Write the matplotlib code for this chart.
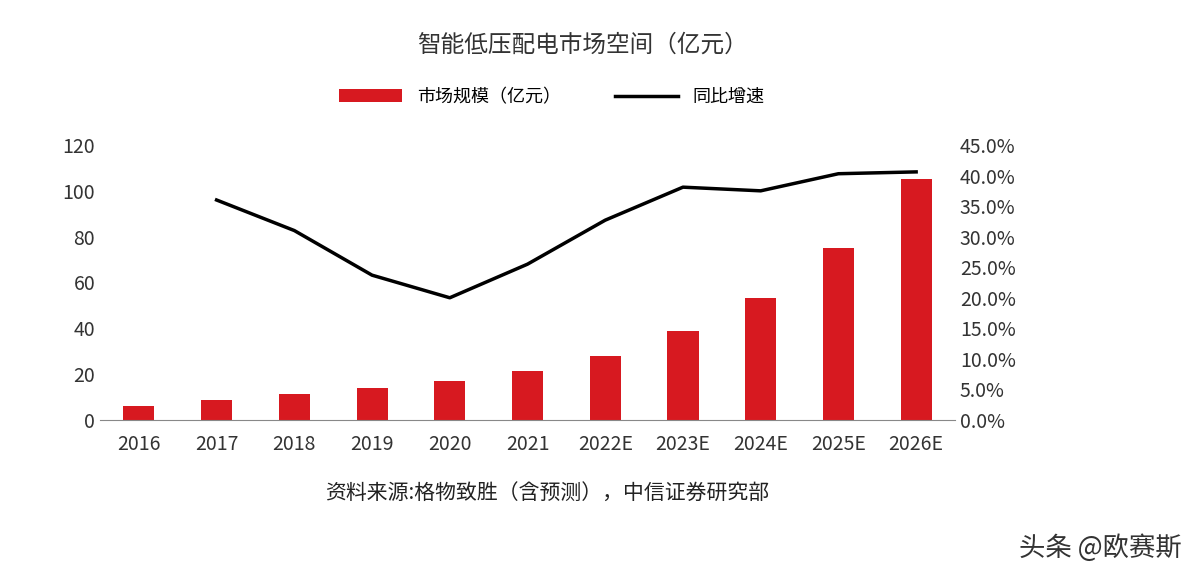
import matplotlib
matplotlib.use("Agg")
import matplotlib.pyplot as plt
from matplotlib import font_manager as fm
from matplotlib.ticker import FuncFormatter

cjk = None
for f in fm.fontManager.ttflist:
    if "CJK" in f.name and ("SC" in f.name or cjk is None):
        cjk = f.name
        if "SC" in f.name:
            break
plt.rcParams["font.family"] = [cjk or "Noto Sans CJK SC", "DejaVu Sans"]

categories = ["2016", "2017", "2018", "2019", "2020", "2021", "2022E", "2023E", "2024E", "2025E", "2026E"]
market = [6, 8.7, 11.3, 14, 17, 21.4, 28, 38.8, 53.2, 75, 105]
growth_years = categories[1:]
growth = [36.0, 31.0, 23.7, 20.0, 25.5, 32.7, 38.1, 37.5, 40.3, 40.6]

W, H = 1200, 580
fig = plt.figure(figsize=(W / 100, H / 100), dpi=100)
ax = fig.add_axes([100 / W, 1 - 420 / H, 855 / W, 275 / H])
x = list(range(len(categories)))
ax.bar(x, market, width=0.4, color="#d71920", label="市场规模（亿元）")
ax.set_ylim(0, 120)
ax.set_yticks(range(0, 121, 20))
ax.set_xlim(-0.5, len(categories) - 0.5)
ax.set_xticks(x)
ax.set_xticklabels(categories)
for s in ["top", "right", "left"]:
    ax.spines[s].set_visible(False)
ax.spines["bottom"].set_color("#888888")
ax.tick_params(axis="both", labelsize=14, colors="#333333", length=0)
ax.tick_params(axis="x", pad=10)

ax2 = ax.twinx()
ax2.plot(x[1:], growth, color="black", lw=2.5, label="同比增速")
ax2.set_ylim(0, 45)
ax2.set_yticks([i * 5 for i in range(10)])
ax2.yaxis.set_major_formatter(FuncFormatter(lambda v, p: f"{v:.1f}%"))
for s in ["top", "right", "left", "bottom"]:
    ax2.spines[s].set_visible(False)
ax2.tick_params(axis="y", labelsize=14, colors="#333333", length=0)

fig.text(0.485, 1 - 45 / H, "智能低压配电市场空间（亿元）", ha="center", va="center", fontsize=17, color="#333333")
h1, l1 = ax.get_legend_handles_labels()
h2, l2 = ax2.get_legend_handles_labels()
fig.legend(h1 + h2, l1 + l2, loc="center", bbox_to_anchor=(0.46, 1 - 97 / H), ncol=2, frameon=False,
           fontsize=13, handlelength=3.5, columnspacing=3)
fig.text(325 / W, 1 - 493 / H, "资料来源:格物致胜（含预测），中信证券研究部", ha="left", va="center", fontsize=15, color="#222222")
fig.text(0.985, 1 - 548 / H, "头条 @欧赛斯", ha="right", va="center", fontsize=19, color="#333333")
fig.savefig("out.png", dpi=100)
